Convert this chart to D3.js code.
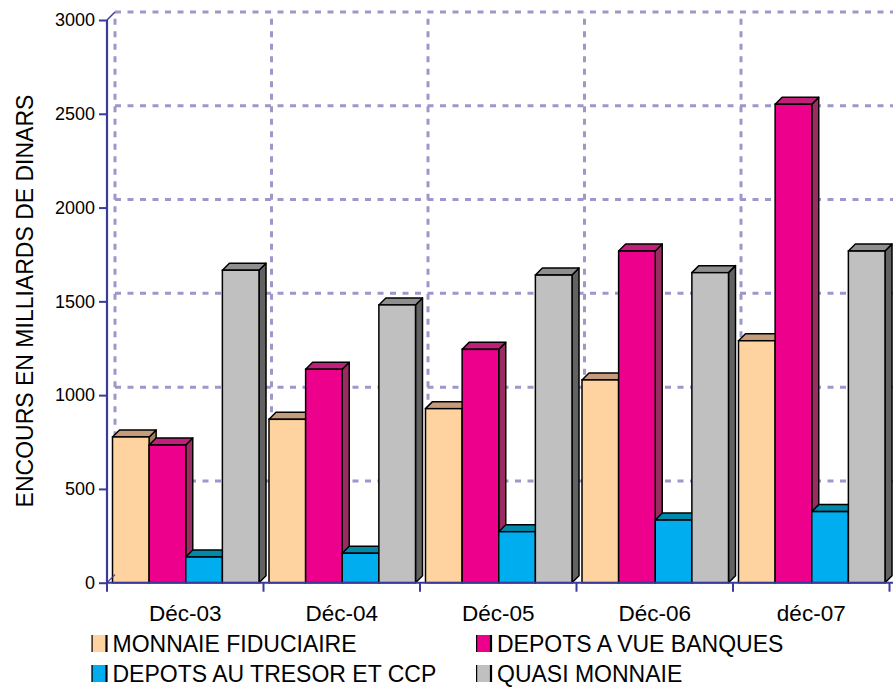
<!DOCTYPE html>
<html><head><meta charset="utf-8">
<script src="https://cdn.jsdelivr.net/npm/d3@7"></script>
<style>
body{margin:0;background:#fff;}
svg{display:block;font-family:"Liberation Sans",Arial,sans-serif;}
</style></head>
<body><svg id="c" width="893" height="688"></svg>
<script>
const categories = ["Déc-03","Déc-04","Déc-05","Déc-06","déc-07"];
const seriesNames = ["MONNAIE FIDUCIAIRE","DEPOTS A VUE BANQUES","DEPOTS AU TRESOR ET CCP","QUASI MONNAIE"];
const monnaieFiduciaire = [777, 871, 928, 1081, 1290];
const depotsVueBanques = [734, 1138, 1244, 1768, 2551];
const depotsTresorCCP = [137, 157, 272, 334, 379];
const quasiMonnaie = [1666, 1481, 1640, 1653, 1768];
const yTicks = [0, 500, 1000, 1500, 2000, 2500, 3000];
const yTitle = "ENCOURS EN MILLIARDS DE DINARS";

const seriesValues = [monnaieFiduciaire, depotsVueBanques, depotsTresorCCP, quasiMonnaie];
const colors = [
  {front:"#FFD39F", top:"#C49B7B", side:"#A67C5E"},
  {front:"#EC008C", top:"#C0207A", side:"#9B2C61"},
  {front:"#00AEEF", top:"#0089A8", side:"#006F8C"},
  {front:"#C0C0C0", top:"#8F8F8F", side:"#626262"}
];

const svg = d3.select("#c");
const x0 = d3.scaleBand().domain(categories).range([107, 889.5]).padding(0);
const x1 = d3.scaleBand().domain(seriesNames).range([5.5, 152]).padding(0);
const y = d3.scaleLinear().domain([0, 3000]).range([582.7, 20]);
const D = 8;   // wall depth
const d = 7;   // bar depth
const axisCol = "#3A3A9A";
const gridCol = "#9D97CB";

// back wall gridlines
const g = svg.append("g");
g.selectAll(".hg").data(yTicks.filter(v => v > 0)).enter().append("line")
  .attr("x1", 107 + D).attr("x2", 900)
  .attr("y1", v => y(v) - D).attr("y2", v => y(v) - D)
  .attr("stroke", gridCol).attr("stroke-width", 3).attr("stroke-dasharray", "6,6.5");
const vx = categories.map(c => x0(c)).concat([x0(categories[categories.length-1]) + x0.bandwidth()]);
g.selectAll(".vg").data(vx).enter().append("line")
  .attr("x1", v => v + D).attr("x2", v => v + D)
  .attr("y1", y(0) - D).attr("y2", y(3000) - D)
  .attr("stroke", gridCol).attr("stroke-width", 3).attr("stroke-dasharray", "6,6.5");

// bars
const bars = svg.append("g");
categories.forEach((c, ci) => {
  seriesNames.forEach((s, si) => {
    const v = seriesValues[si][ci];
    const xl = x0(c) + x1(s), w = x1.bandwidth();
    const yt = y(v), yb = y(0);
    const col = colors[si];
    const bg = bars.append("g");
    bg.append("path")
      .attr("d", `M${xl+w},${yt}L${xl+w+d},${yt-d}L${xl+w+d},${yb-d}L${xl+w},${yb}Z`)
      .attr("fill", col.side).attr("stroke", "#000").attr("stroke-width", 1.5).attr("stroke-linejoin","round");
    bg.append("path")
      .attr("d", `M${xl},${yt}L${xl+d},${yt-d}L${xl+w+d},${yt-d}L${xl+w},${yt}Z`)
      .attr("fill", col.top).attr("stroke", "#000").attr("stroke-width", 1.5).attr("stroke-linejoin","round");
    bg.append("rect")
      .attr("x", xl).attr("y", yt).attr("width", w).attr("height", yb - yt)
      .attr("fill", col.front).attr("stroke", "#000").attr("stroke-width", 1.5);
  });
});

// axes
const yAxis = d3.axisLeft(y).tickValues(yTicks).tickSize(8).tickPadding(4).tickFormat(d3.format("d"));
const ya = svg.append("g").attr("transform", "translate(107,0)").call(yAxis);
ya.select(".domain").attr("stroke", axisCol).attr("stroke-width", 2.2).attr("d", `M0,${y(3000)}V${y(0)}`);
ya.selectAll(".tick line").attr("stroke", axisCol).attr("stroke-width", 2);
ya.selectAll(".tick text").attr("font-size", 18).attr("fill", "#000").attr("font-family", "Liberation Sans, Arial, sans-serif");
svg.append("line").attr("x1", 107).attr("y1", y(3000)).attr("x2", 107 + D).attr("y2", y(3000) - D)
  .attr("stroke", axisCol).attr("stroke-width", 1.5);
svg.append("line").attr("x1", 107).attr("y1", y(0)).attr("x2", 107 + D).attr("y2", y(0) - D)
  .attr("stroke", axisCol).attr("stroke-width", 1.2);

const xAxis = d3.axisBottom(x0).tickSize(0).tickPadding(0);
const xa = svg.append("g").attr("transform", `translate(0,${y(0)})`).call(xAxis);
xa.select(".domain").attr("stroke", axisCol).attr("stroke-width", 2).attr("d", `M107,0H900`);
xa.selectAll(".tick text").attr("font-size", 22.5).attr("fill", "#000").attr("y", 38)
  .attr("dy", 0).attr("font-family", "Liberation Sans, Arial, sans-serif");
xa.selectAll(".tick line").remove();
xa.selectAll(".sep").data(vx).enter().append("line")
  .attr("x1", v => v).attr("x2", v => v).attr("y1", 0).attr("y2", 9)
  .attr("stroke", axisCol).attr("stroke-width", 2);

// y title
svg.append("text").attr("transform", "translate(33,301) rotate(-90)")
  .attr("text-anchor", "middle").attr("font-size", 23).attr("fill", "#000").text(yTitle);

// legend
const legPos = [[91.5, 652], [476, 652], [91.5, 682], [476, 682]];
seriesNames.forEach((s, i) => {
  const [lx, ly] = legPos[i];
  const lg = svg.append("g");
  lg.append("rect").attr("x", lx).attr("y", ly - 17).attr("width", 15).attr("height", 17)
    .attr("fill", colors[i].front);
  lg.append("line").attr("x1", lx + 0.6).attr("x2", lx + 0.6).attr("y1", ly - 17).attr("y2", ly).attr("stroke", "#000").attr("stroke-width", 1.2);
  lg.append("line").attr("x1", lx + 15).attr("x2", lx + 15).attr("y1", ly - 17).attr("y2", ly).attr("stroke", "#000").attr("stroke-width", 2.2);
  lg.append("text").attr("x", lx + 21).attr("y", ly).attr("font-size", 23).attr("fill", "#000").text(s);
});
</script></body></html>
